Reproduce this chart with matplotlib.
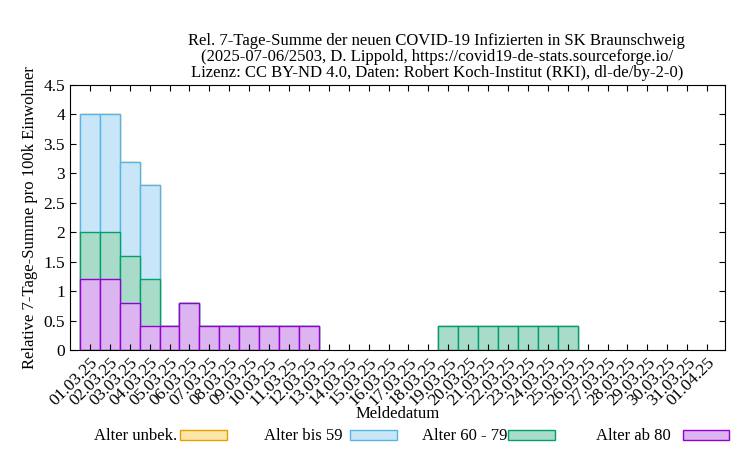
import matplotlib
matplotlib.use('Agg')
import matplotlib.pyplot as plt
import matplotlib.patches as mpatches
import numpy as np

dates = ["%02d.03.25" % d for d in range(1, 32)] + ["01.04.25"]
# cumulative (stacked) heights per day
top_unbek = [4.0, 4.0, 3.2, 2.8, 0.4, 0.8] + [0.4] * 6 + [0] * 6 + [0.4] * 7 + [0] * 7
top_bis59 = [4.0, 4.0, 3.2, 2.8, 0.4, 0.8] + [0.4] * 6 + [0] * 6 + [0.4] * 7 + [0] * 7
top_60_79 = [2.0, 2.0, 1.6, 1.2, 0.4, 0.8] + [0.4] * 6 + [0] * 6 + [0.4] * 7 + [0] * 7
top_ab80 = [1.2, 1.2, 0.8, 0.4, 0.4, 0.8] + [0.4] * 6 + [0] * 6 + [0] * 7 + [0] * 7

series = [
    ("Alter unbek.", top_unbek, "#fde6a8", "#e69f00"),
    ("Alter bis 59", top_bis59, "#c8e6f8", "#56b4e9"),
    ("Alter 60 - 79", top_60_79, "#a9dcc8", "#009e73"),
    ("Alter ab 80", top_ab80, "#dcb4f0", "#9400d3"),
]

plt.rcParams['font.family'] = ['Liberation Serif', 'DejaVu Serif']
plt.rcParams['font.size'] = 12

fig = plt.figure(figsize=(7.5, 4.5), dpi=100)
ax = fig.add_axes([70 / 750, 1 - 350 / 450, 655 / 750, 265 / 450])
x = np.arange(len(dates))
for label, vals, fc, ec in series:
    v = np.array(vals, dtype=float)
    m = v > 0
    ax.bar(x[m], v[m], width=1.0, color=fc, edgecolor=ec, linewidth=1.0)

ax.set_xlim(-1, 31.9)
ax.set_ylim(0, 4.5)
ax.set_yticks(np.arange(0, 4.6, 0.5))
ax.set_yticklabels(["0", "0.5", "1", "1.5", "2", "2.5", "3", "3.5", "4", "4.5"])
ax.set_xticks(x)
ax.set_xticklabels(dates, rotation=45, ha='right', rotation_mode='anchor')
ax.tick_params(direction='in', top=True, right=True, length=4, labelsize=12.5)
ax.set_ylabel("Relative 7-Tage-Summe pro 100k Einwohner")
ax.set_xlabel("Meldedatum", labelpad=-2)
ax.set_title("Rel. 7-Tage-Summe der neuen COVID-19 Infizierten in SK Braunschweig\n"
             "(2025-07-06/2503, D. Lippold, https://covid19-de-stats.sourceforge.io/\n"
             "Lizenz: CC BY-ND 4.0, Daten: Robert Koch-Institut (RKI), dl-de/by-2-0)",
             fontsize=12, linespacing=1.0, x=0.56)

# legend row at the bottom
xs = [0.125, 0.352, 0.563, 0.795]
for (label, vals, fc, ec), lx in zip(series, xs):
    fig.text(lx, 0.032, label, ha='left', va='center', fontsize=12)
    fig.patches.append(mpatches.Rectangle((lx + 0.115, 0.022), 0.062, 0.022,
                                          transform=fig.transFigure,
                                          facecolor=fc, edgecolor=ec, lw=1))

fig.savefig("out.png", dpi=100)
